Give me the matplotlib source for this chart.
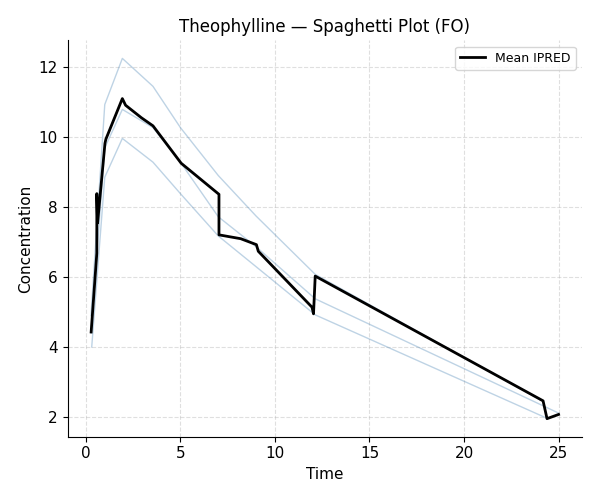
import matplotlib
matplotlib.use("Agg")
import matplotlib.pyplot as plt

# individual predicted curves (thin lines)
subj_times = [
    [0.27, 1.0, 1.93, 3.55, 5.0, 7.0, 9.0, 12.13, 24.15],
    [0.27, 1.0, 1.93, 3.55, 5.0, 7.0, 9.0, 12.13, 25.0],
    [0.31, 1.0, 1.93, 3.55, 5.0, 7.0, 9.0, 12.13, 24.35],
]
subj_ipred = [
    [4.9, 10.94, 12.26, 11.46, 10.28, 8.91, 7.75, 6.08, 2.45],
    [4.4, 9.7, 10.8, 10.28, 9.29, 7.73, 6.87, 5.38, 2.11],
    [4.0, 8.86, 9.97, 9.29, 8.39, 7.18, 6.3, 4.92, 1.97],
]

# mean IPRED over the (slightly varying) sampling times
mean_time = [0.28, 0.58, 0.58, 0.62, 1.01, 1.06, 1.93, 2.1, 2.94, 3.55, 5.04,
             7.04, 7.04, 8.19, 9.02, 9.12, 11.96, 12.04, 12.13, 24.18, 24.39, 25.0]
mean_ipred = [4.43, 6.69, 8.39, 7.55, 9.83, 9.95, 11.11, 10.92, 10.56, 10.33, 9.26,
              8.37, 7.21, 7.1, 6.93, 6.74, 5.14, 4.95, 6.03, 2.46, 1.95, 2.07]

fig, ax = plt.subplots(figsize=(6, 5), dpi=100)

for t, c in zip(subj_times, subj_ipred):
    ax.plot(t, c, color="steelblue", alpha=0.35, linewidth=1)

ax.plot(mean_time, mean_ipred, color="black", linewidth=2, label="Mean IPRED")

ax.set_title("Theophylline — Spaghetti Plot (FO)", fontsize=12)
ax.set_xlabel("Time", fontsize=11)
ax.set_ylabel("Concentration", fontsize=11)
ax.tick_params(labelsize=11)
ax.grid(True, linestyle="--", alpha=0.4)
ax.spines["top"].set_visible(False)
ax.spines["right"].set_visible(False)
ax.legend(loc="upper right", fontsize=9)

fig.tight_layout(pad=1.3)
fig.savefig("out.png")
